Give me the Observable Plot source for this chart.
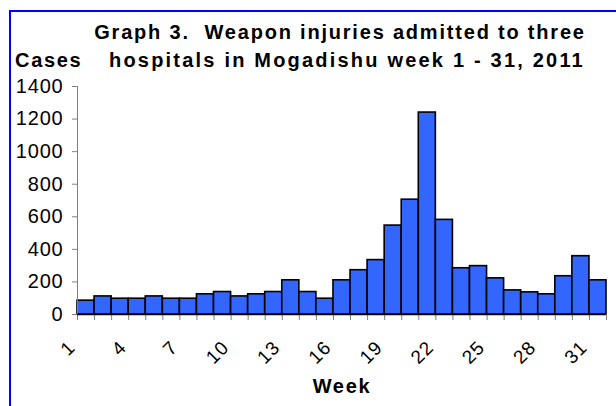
<!DOCTYPE html>
<html>
<head>
<meta charset="utf-8">
<script src="https://cdn.jsdelivr.net/npm/d3@7"></script>
<script src="https://cdn.jsdelivr.net/npm/@observablehq/plot@0.6"></script>
<style>
  html, body { margin: 0; padding: 0; background: #fff; }
  #wrap { position: relative; width: 616px; height: 406px; overflow: hidden; font-family: "Liberation Sans", Arial, sans-serif; color: #000; }
  .frame { position: absolute; left: 9px; top: 10px; right: -20px; bottom: -20px; border-left: 2px solid #0000ff; border-top: 2px solid #0000ff; }
  .t { position: absolute; font-weight: bold; font-size: 20px; line-height: 20px; letter-spacing: 1.7px; white-space: pre; text-align: center; }
  #chart { position: absolute; left: 0; top: 72px; }
  #chart svg { overflow: visible; }
  #chart svg text { letter-spacing: 0.8px; }
</style>
</head>
<body>
<div id="wrap">
  <div class="frame"></div>
  <div class="t" style="left:90px;width:500px;top:22px;letter-spacing:1.8px;">Graph 3.  Weapon injuries admitted to three</div>
  <div class="t" style="left:97px;width:500px;top:50px;letter-spacing:2.2px;">hospitals in Mogadishu week 1 - 31, 2011</div>
  <div class="t" style="left:15px;top:50px;text-align:left;">Cases</div>
  <div id="chart"></div>
  <div class="t" style="left:242px;width:200px;top:376px;">Week</div>
</div>
<script>
const weeks = [1,2,3,4,5,6,7,8,9,10,11,12,13,14,15,16,17,18,19,20,21,22,23,24,25,26,27,28,29,30,31];
const cases = [85,111,97,97,111,97,97,124,138,111,124,138,210,138,97,210,272,334,546,705,1240,581,284,297,222,148,136,124,235,358,210];
const xTickLabels = [1,4,7,10,13,16,19,22,25,28,31];
const yTicks = [0,200,400,600,800,1000,1200,1400];

const data = weeks.map((w, i) => ({week: w, cases: cases[i]}));
const boundaries = weeks.map(w => w - 0.5).concat([weeks[weeks.length - 1] + 0.5]);

const chart = Plot.plot({
  width: 616,
  height: 300,
  marginTop: 14,
  marginBottom: 58,
  marginLeft: 77,
  marginRight: 10,
  style: {fontFamily: "'Liberation Sans', Arial, sans-serif", fontSize: "20px", background: "transparent", color: "#000"},
  x: {domain: [0.5, 31.5]},
  y: {domain: [0, 1400]},
  marks: [
    Plot.rectY(data, {x1: d => d.week - 0.5, x2: d => d.week + 0.5, y: "cases", fill: "#3366ff", stroke: "#000", strokeWidth: 1.6}),
    Plot.ruleX([0.5], {stroke: "#808080", strokeWidth: 1}),
    Plot.axisY({ticks: yTicks, tickSize: 5, tickPadding: 9, tickFormat: d => String(d), stroke: "#808080", label: null, fontSize: 20}),
    Plot.axisX({ticks: boundaries, tickSize: 6, tickFormat: () => "", stroke: "#808080", label: null}),
    Plot.axisX({ticks: xTickLabels, tickSize: 0, tickPadding: 30, tickRotate: -45, dx: -14, tickFormat: d => String(d), label: null, fontSize: 19}),
    Plot.ruleY([0], {stroke: "#000", strokeWidth: 1.6})
  ]
});
document.getElementById("chart").appendChild(chart);
</script>
</body>
</html>
